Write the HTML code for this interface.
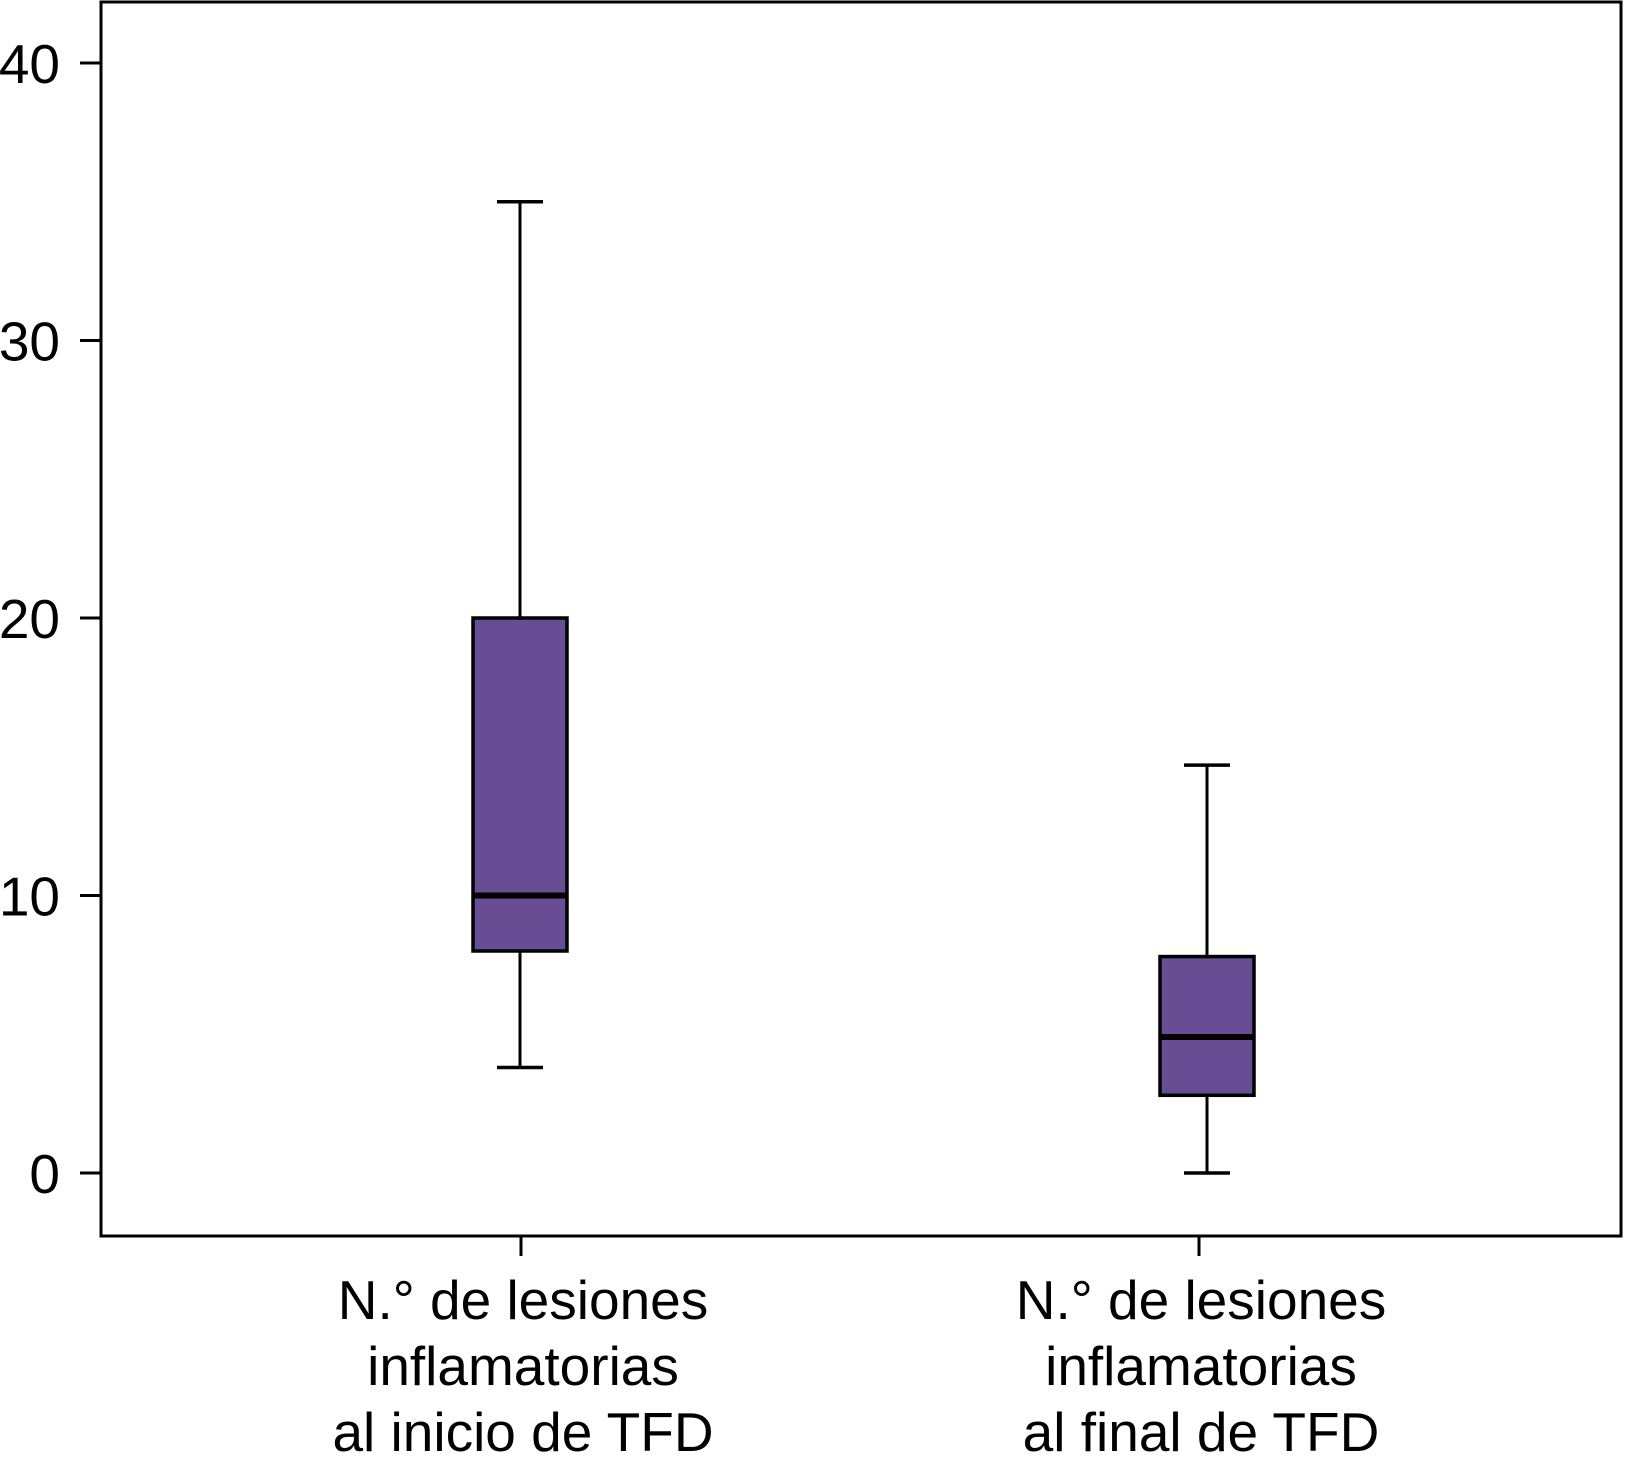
<!DOCTYPE html>
<html><head><meta charset="utf-8"><style>
html,body{margin:0;padding:0;background:#fff;}
svg{display:block;}
text{font-family:"Liberation Sans",Arial,sans-serif;fill:#000;}
</style></head><body>
<svg id="chart" width="1625" height="1469" viewBox="0 0 1625 1469" xmlns="http://www.w3.org/2000/svg">
<g id="frame"></g>
<g id="yaxis"></g>
<g id="xaxis"></g>
<g id="boxes"></g>
</svg>
<script>
const categories = [
  ["N.° de lesiones","inflamatorias","al inicio de TFD"],
  ["N.° de lesiones","inflamatorias","al final de TFD"]
];
const whiskerLow = [3.8, 0];
const q1 = [8, 2.8];
const median = [10, 4.9];
const q3 = [20, 7.8];
const whiskerHigh = [35, 14.7];
const yTicks = [0, 10, 20, 30, 40];

const NS = "http://www.w3.org/2000/svg";
const L = 101, R = 1621, T = 2, B = 1236;
const xCenters = [520, 1207];
const xTickPos = [521, 1199];
function y(v){ return 1173 - v * 27.75; }
function x(i){ return xCenters[i]; }
function el(tag, attrs, parent){
  const e = document.createElementNS(NS, tag);
  for (const k in attrs) e.setAttribute(k, attrs[k]);
  parent.appendChild(e);
  return e;
}
const frame = document.getElementById('frame');
const f = el('rect', {x:L, y:T, width:R-L, height:B-T, fill:'none', stroke:'#000', 'stroke-width':3}, frame);



const ya = document.getElementById('yaxis');
yTicks.forEach(v => {
  const t = el('line', {x1:80, x2:L, y1:y(v), y2:y(v), stroke:'#000', 'stroke-width':3}, ya);
  
  
  const lb = el('text', {x:60, y:y(v)+20, 'text-anchor':'end', 'font-size':55}, ya);
  lb.textContent = v;
  
  
});

const xa = document.getElementById('xaxis');
categories.forEach((lines, i) => {
  const tx = xTickPos[i];
  const t = el('line', {x1:tx, x2:tx, y1:B, y2:1256, stroke:'#000', 'stroke-width':3}, xa);
  
  
  lines.forEach((s, j) => {
    const lb = el('text', {x:tx+2, y:1319 + j*66, 'text-anchor':'middle', 'font-size':55}, xa);
    lb.textContent = s;
    
    
  });
});

const bx = document.getElementById('boxes');
const bw = 94, cw = 46;
categories.forEach((c, i) => {
  const g = el('g', {}, bx);
  
  
  const wl = el('line', {x1:x(i), x2:x(i), y1:y(q3[i]), y2:y(whiskerHigh[i]), stroke:'#000', 'stroke-width':3}, g);
  
  
  const wl2 = el('line', {x1:x(i), x2:x(i), y1:y(q1[i]), y2:y(whiskerLow[i]), stroke:'#000', 'stroke-width':3}, g);
  
  
  const c1 = el('line', {x1:x(i)-cw/2, x2:x(i)+cw/2, y1:y(whiskerHigh[i]), y2:y(whiskerHigh[i]), stroke:'#000', 'stroke-width':3.5}, g);
  
  
  const c2 = el('line', {x1:x(i)-cw/2, x2:x(i)+cw/2, y1:y(whiskerLow[i]), y2:y(whiskerLow[i]), stroke:'#000', 'stroke-width':3.5}, g);
  
  
  const r = el('rect', {x:x(i)-bw/2, y:y(q3[i]), width:bw, height:y(q1[i])-y(q3[i]), fill:'#684c94', stroke:'#000', 'stroke-width':3.5}, g);
  
  
  const m = el('line', {x1:x(i)-bw/2, x2:x(i)+bw/2, y1:y(median[i]), y2:y(median[i]), stroke:'#000', 'stroke-width':6}, g);
  
  
});
</script>
</body></html>
